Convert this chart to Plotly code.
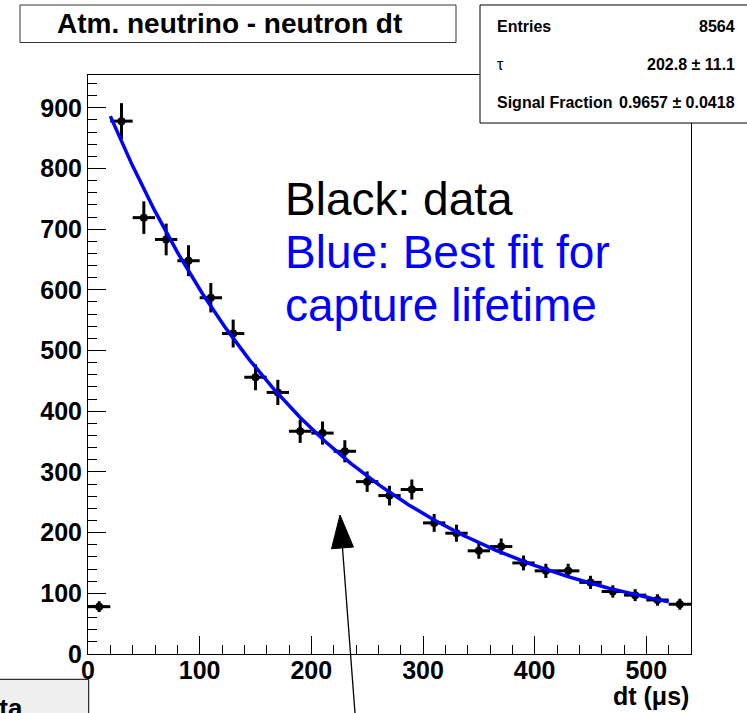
import numpy as np
import plotly.graph_objects as go

# Histogram of neutron capture time after an atmospheric-neutrino event (20 us bins)
BIN_WIDTH = 20.0
dt_centers = [10, 30, 50, 70, 90, 110, 130, 150, 170, 190, 210, 230, 250, 270,
              290, 310, 330, 350, 370, 390, 410, 430, 450, 470, 490, 510, 530]
counts = [78, 878, 719, 683, 648, 587, 528, 456, 431, 367, 364, 334, 284, 261,
          271, 216, 199, 170, 177, 150, 137, 137, 118, 103, 97, 89, 82]

x_tick_vals = [0, 100, 200, 300, 400, 500]
x_tick_text = ["0", "100", "200", "300", "400", "500"]
y_tick_vals = [0, 100, 200, 300, 400, 500, 600, 700, 800, 900]
y_tick_text = ["0", "100", "200", "300", "400", "500", "600", "700", "800", "900"]

# Fit result: exponential signal + flat background over the fit window
TAU = 202.8
TAU_ERR = 11.1
SIG_FRAC = 0.9657
SIG_FRAC_ERR = 0.0418
FIT_LO, FIT_HI = 20.0, 520.0

X_RANGE = [0, 540]
Y_RANGE = [0, 954]

# ---------------------------------------------------------------------------
W, H = 747, 713
ML, MR, MT, MB = 88, 56, 75, 59
PW, PH = W - ML - MR, H - MT - MB


def pxx(x):
    return (x - ML) / PW


def pxy(y):
    return (H - MB - y) / PH


counts_arr = np.array(counts, dtype=float)
centers_arr = np.array(dt_centers, dtype=float)
errors = np.sqrt(counts_arr)
entries = int(counts_arr.sum())

in_fit = (centers_arr > FIT_LO) & (centers_arr < FIT_HI)
n_fit = counts_arr[in_fit].sum()
norm = TAU * (np.exp(-FIT_LO / TAU) - np.exp(-FIT_HI / TAU))
t = np.linspace(FIT_LO, FIT_HI, 400)
fit_curve = BIN_WIDTH * n_fit * (SIG_FRAC * np.exp(-t / TAU) / norm
                                 + (1.0 - SIG_FRAC) / (FIT_HI - FIT_LO))

FONT = "Liberation Sans, Arial, Helvetica, sans-serif"

fig = go.Figure()
fig.add_trace(go.Scatter(
    x=dt_centers, y=counts, mode="markers",
    marker=dict(color="black", size=8, symbol="circle"),
    error_x=dict(type="constant", value=BIN_WIDTH / 2, thickness=3, width=0, color="black"),
    error_y=dict(type="data", array=errors, thickness=3, width=0, color="black"),
    showlegend=False, hoverinfo="skip",
))
fig.add_trace(go.Scatter(
    x=t, y=fit_curve, mode="lines",
    line=dict(color="#0000ff", width=3.5),
    showlegend=False, hoverinfo="skip",
))

axis_common = dict(
    showline=True, linecolor="black", linewidth=1, mirror=True,
    showgrid=False, zeroline=False,
    ticks="inside", ticklen=18, tickwidth=1, tickcolor="black",
    tickfont=dict(family=FONT, size=25, color="black", weight="bold"),
    tickmode="array",
)
fig.update_xaxes(range=X_RANGE, tickvals=x_tick_vals, ticktext=x_tick_text,
                 ticklabelstandoff=-6,
                 minor=dict(ticks="inside", ticklen=9, tickcolor="black",
                            tickmode="linear", tick0=0, dtick=20, showgrid=False),
                 **axis_common)
fig.update_yaxes(range=Y_RANGE, tickvals=y_tick_vals, ticktext=y_tick_text,
                 minor=dict(ticks="inside", ticklen=9, tickcolor="black",
                            tickmode="linear", tick0=0, dtick=20, showgrid=False),
                 **axis_common)

shapes = []
annotations = []

# Title pave
shapes.append(dict(type="rect", xref="paper", yref="paper",
                   x0=pxx(20), x1=pxx(456), y0=pxy(42.5), y1=pxy(5),
                   line=dict(color="#333333", width=1), fillcolor="white", layer="above"))
annotations.append(dict(xref="paper", yref="paper", x=pxx(229), y=pxy(23.5),
                        xanchor="center", yanchor="middle", showarrow=False,
                        text="Atm. neutrino - neutron dt",
                        font=dict(family=FONT, size=28, color="black", weight="bold")))

# Statistics pave
shapes.append(dict(type="rect", xref="paper", yref="paper",
                   x0=pxx(480), x1=pxx(760), y0=pxy(123), y1=pxy(5),
                   line=dict(color="black", width=1), fillcolor="white", layer="above"))
stat_rows = [
    ("Entries", f"{entries}", 27),
    ("\u03c4", f"{TAU:.1f} \u00b1 {TAU_ERR:.1f}", 64),
    ("Signal Fraction", f"{SIG_FRAC:.4f} \u00b1 {SIG_FRAC_ERR:.4f}", 102),
]
for label, value, ypix in stat_rows:
    annotations.append(dict(xref="paper", yref="paper", x=pxx(495), y=pxy(ypix),
                            xanchor="left", yanchor="middle", showarrow=False, text=label,
                            font=dict(family=FONT, size=16, color="black",
                                      weight="normal" if label == "\u03c4" else "bold")))
    annotations.append(dict(xref="paper", yref="paper", x=pxx(737), y=pxy(ypix),
                            xanchor="right", yanchor="middle", showarrow=False, text=value,
                            font=dict(family=FONT, size=16, color="black", weight="bold")))

# Legend text in the plot
legend_lines = [
    ("Black: data", "black", 199),
    ("Blue: Best fit for", "#0000ff", 252),
    ("capture lifetime", "#0000ff", 305),
]
for txt, col, ypix in legend_lines:
    annotations.append(dict(xref="paper", yref="paper", x=pxx(283), y=pxy(ypix),
                            xanchor="left", yanchor="middle", showarrow=False, text=txt,
                            font=dict(family=FONT, size=46, color=col)))

# Axis title
annotations.append(dict(xref="paper", yref="paper", x=1.0, y=pxy(696),
                        xanchor="right", yanchor="middle", showarrow=False,
                        text="dt (\u03bcs)",
                        font=dict(family=FONT, size=25, color="black", weight="bold")))

# Partially visible pave in the lower-left corner
shapes.append(dict(type="rect", xref="paper", yref="paper",
                   x0=pxx(-10), x1=pxx(88.7), y0=pxy(730), y1=pxy(679.3),
                   line=dict(color="black", width=1), fillcolor="#f0f0f0", layer="above"))
annotations.append(dict(xref="paper", yref="paper", x=pxx(25), y=pxy(708),
                        xanchor="right", yanchor="middle", showarrow=False, text="Data",
                        font=dict(family=FONT, size=26, color="black", weight="bold")))

# Arrow pointing at the fitted curve
tip = np.array([340.0, 515.0])
tail = np.array([355.0, 713.0])
head_len, head_half = 33.0, 11.0
u = (tip - tail) / np.linalg.norm(tip - tail)
perp = np.array([-u[1], u[0]])
base = tip - head_len * u
c1 = base + head_half * perp
c2 = base - head_half * perp
shapes.append(dict(type="line", xref="paper", yref="paper",
                   x0=pxx(tail[0]), y0=pxy(tail[1]), x1=pxx(base[0]), y1=pxy(base[1]),
                   line=dict(color="black", width=1.3), layer="above"))
path = (f"M {pxx(tip[0])},{pxy(tip[1])} L {pxx(c1[0])},{pxy(c1[1])} "
        f"L {pxx(c2[0])},{pxy(c2[1])} Z")
shapes.append(dict(type="path", xref="paper", yref="paper", path=path,
                   fillcolor="black", line=dict(color="black", width=1), layer="above"))

fig.update_layout(
    width=W, height=H,
    margin=dict(l=ML, r=MR, t=MT, b=MB, pad=0),
    paper_bgcolor="white", plot_bgcolor="white",
    shapes=shapes, annotations=annotations,
    showlegend=False,
)

fig.write_html("out.html", config={"displayModeBar": False})
